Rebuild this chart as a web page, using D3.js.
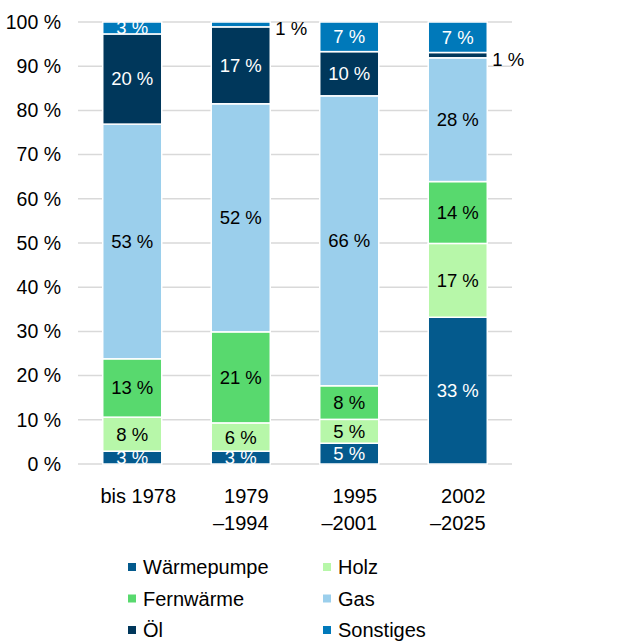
<!DOCTYPE html>
<html>
<head>
<meta charset="utf-8">
<script src="https://cdn.jsdelivr.net/npm/d3@7"></script>
<style>
  body { margin: 0; background: #fff; }
  text { font-family: "Liberation Sans", Arial, sans-serif; }
</style>
</head>
<body>
<div id="chart"></div>
<script>
// categories (lines of the x labels)
const categories = [["bis 1978"], ["1979", "–1994"], ["1995", "–2001"], ["2002", "–2025"]];
const seriesNames = ["Wärmepumpe", "Holz", "Fernwärme", "Gas", "Öl", "Sonstiges"];

// shares in % per category
const waermepumpe = [2.9, 2.9, 4.7, 33.2];
const holz        = [7.7, 6.4, 5.4, 16.7];
const fernwaerme  = [13.2, 20.6, 7.6, 14.0];
const gas         = [53.1, 51.6, 65.6, 28.0];
const oel         = [20.4, 17.4, 10.0, 1.2];
const sonstiges   = [2.7, 1.1, 6.7, 6.9];

const yTicks = [0, 10, 20, 30, 40, 50, 60, 70, 80, 90, 100];

const colors = ["#045a8d", "#b7f7a9", "#58d96e", "#9bcfec", "#00375b", "#0079ba"];
const labelColors = ["#fff", "#000", "#000", "#000", "#fff", "#fff"];

const W = 640, H = 641;
const plot = { left: 78, right: 512, top: 22, bottom: 464 };

const svg = d3.select("#chart").append("svg")
    .attr("width", W)
    .attr("height", H);

const x = d3.scaleBand()
    .domain(d3.range(categories.length))
    .range([plot.left, plot.right])
    .paddingInner(0.456)
    .paddingOuter(0.228);

const y = d3.scaleLinear().domain([0, 100]).range([plot.bottom, plot.top]);

// gridlines
svg.append("g")
    .selectAll("line")
    .data(yTicks)
    .join("line")
    .attr("x1", plot.left)
    .attr("x2", plot.right)
    .attr("y1", d => y(d))
    .attr("y2", d => y(d))
    .attr("stroke", "#d9d9d9")
    .attr("stroke-width", 1.5);

// y axis labels
svg.append("g")
    .selectAll("text")
    .data(yTicks)
    .join("text")
    .attr("x", 61)
    .attr("y", d => y(d))
    .attr("dy", "0.35em")
    .attr("text-anchor", "end")
    .attr("font-size", 19.5)
    .attr("fill", "#000")
    .text(d => d + " %");

// stack data
const table = categories.map((c, i) => ({
    i: i,
    "Wärmepumpe": waermepumpe[i],
    "Holz": holz[i],
    "Fernwärme": fernwaerme[i],
    "Gas": gas[i],
    "Öl": oel[i],
    "Sonstiges": sonstiges[i]
}));
const stacked = d3.stack().keys(seriesNames)(table);

const layers = svg.append("g")
    .selectAll("g")
    .data(stacked)
    .join("g")
    .attr("fill", (d, k) => colors[k]);

layers.selectAll("rect")
    .data(d => d)
    .join("rect")
    .attr("x", d => x(d.data.i))
    .attr("width", x.bandwidth())
    .attr("y", d => y(d[1]))
    .attr("height", d => y(d[0]) - y(d[1]))
    .attr("stroke", "#fff")
    .attr("stroke-width", 1.5);

// data labels (tiny segments get their label beside the bar)
stacked.forEach((layer, k) => {
    layer.forEach(d => {
        const v = d[1] - d[0];
        const small = v < 2;
        svg.append("text")
            .attr("x", small ? x(d.data.i) + x.bandwidth() + 5 : x(d.data.i) + x.bandwidth() / 2)
            .attr("y", small ? y((d[0] + d[1]) / 2) + 4 : y((d[0] + d[1]) / 2))
            .attr("dy", "0.35em")
            .attr("text-anchor", small ? "start" : "middle")
            .attr("font-size", 18.5)
            .attr("fill", small ? "#000" : labelColors[k])
            .text(Math.round(v) + " %");
    });
});

// category labels, lines right-aligned within a centred block
categories.forEach((lines, i) => {
    const g = svg.append("g");
    const texts = lines.map((t, j) => g.append("text")
        .attr("y", 503 + j * 27)
        .attr("font-size", 20)
        .attr("fill", "#000")
        .attr("text-anchor", "end")
        .text(t));
    const maxW = d3.max(texts, t => t.node().getComputedTextLength());
    const cx = x(i) + x.bandwidth() / 2 + (lines.length === 1 ? 6 : 0);
    texts.forEach(t => t.attr("x", cx + maxW / 2));
});

// legend
const legend = svg.append("g");
seriesNames.forEach((name, k) => {
    const col = k % 2, row = Math.floor(k / 2);
    const lx = col === 0 ? 128 : 323;
    const ly = 567 + row * 31.5;
    legend.append("rect")
        .attr("x", lx)
        .attr("y", ly - 4)
        .attr("width", 8)
        .attr("height", 8)
        .attr("fill", colors[k]);
    legend.append("text")
        .attr("x", lx + 15)
        .attr("y", ly)
        .attr("dy", "0.35em")
        .attr("font-size", 20)
        .attr("fill", "#000")
        .text(name);
});
</script>
</body>
</html>
